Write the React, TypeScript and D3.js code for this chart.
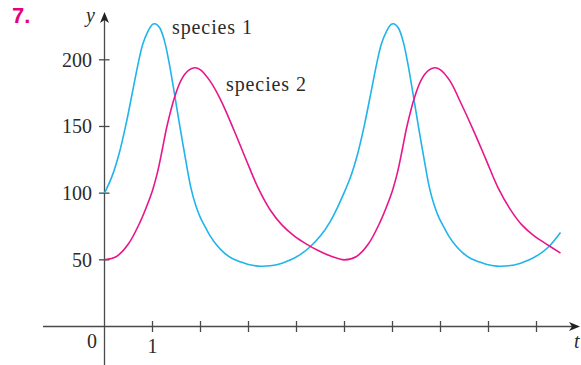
import React from "react";
import * as d3 from "d3";

const species1T = [0, 0.15, 0.3, 0.45, 0.6, 0.7, 0.8, 0.9, 1.0, 1.06, 1.15, 1.25, 1.34, 1.46, 1.57, 1.7, 1.8, 1.9, 2.0, 2.1, 2.2, 2.35, 2.5, 2.66, 2.85, 3.0, 3.2, 3.45, 3.7, 3.88, 4.1, 4.29, 4.5, 4.7, 4.85, 4.97, 5.12, 5.27, 5.42, 5.57, 5.67, 5.77, 5.87, 5.97, 6.03, 6.12, 6.22, 6.31, 6.43, 6.54, 6.67, 6.77, 6.87, 6.97, 7.07, 7.17, 7.32, 7.47, 7.63, 7.82, 7.97, 8.17, 8.42, 8.67, 8.85, 9.07, 9.26, 9.5];
const species1V = [100, 112, 129, 152, 179, 197, 212, 221, 226.5, 227, 224, 214, 199, 174, 150, 123, 104, 91, 81.5, 74.5, 68, 60.5, 55, 51, 48.3, 46.5, 45.3, 45.5, 47.5, 50, 54.5, 60, 68, 78.5, 89, 98.5, 111.5, 129, 152, 179, 197, 212, 221, 226.5, 227, 224, 214, 199, 174, 150, 123, 104, 91, 81.5, 74.5, 68, 60.5, 55, 51, 48.3, 46.5, 45.3, 45.5, 47.5, 50, 54.5, 60, 70.5];

const species2T = [0, 0.25, 0.5, 0.75, 0.9, 1.0, 1.1, 1.2, 1.3, 1.46, 1.6, 1.75, 1.875, 2.0, 2.2, 2.42, 2.7, 2.94, 3.2, 3.46, 3.7, 3.95, 4.2, 4.45, 4.7, 5.0, 5.25, 5.5, 5.75, 5.9, 6.0, 6.1, 6.2, 6.3, 6.46, 6.6, 6.75, 6.875, 7.0, 7.2, 7.42, 7.7, 7.95, 8.2, 8.46, 8.7, 8.95, 9.2, 9.5];
const species2V = [50, 52.5, 62, 79, 92, 102, 115, 132, 150, 172, 185, 192, 194, 192.5, 184, 170, 147, 126, 104, 87, 76, 68, 62, 57, 53, 50, 52.5, 62, 79, 92, 102, 115, 132, 150, 172, 185, 192, 194, 192.5, 184, 168, 146, 125, 104, 87.5, 76, 68, 62, 55];

const xTicks = [1, 2, 3, 4, 5, 6, 7, 8, 9];
const xTickLabels = ["1"];
const yTicks = [50, 100, 150, 200];
const seriesNames = ["species 1", "species 2"];

const W = 581;
const H = 365;
const BLUE = "#1FB4EA";
const MAGENTA = "#E8168B";
const AXIS = "#4a4a4a";
const TEXT = "#2b2b2b";
const SERIF = "'Liberation Serif', 'Times New Roman', serif";

export default function App() {
  const x = d3.scaleLinear().domain([0, 10]).range([104.5, 584.5]);
  const y = d3.scaleLinear().domain([0, 200]).range([326.5, 59.8]);

  const line = d3
    .line<[number, number]>()
    .x((d) => x(d[0]))
    .y((d) => y(d[1]))
    .curve(d3.curveCatmullRom.alpha(0.5));

  const s1 = species1T.map((t, i) => [t, species1V[i]] as [number, number]);
  const s2 = species2T.map((t, i) => [t, species2V[i]] as [number, number]);

  const x0 = x(0);
  const y0 = y(0);

  return (
    <div style={{ position: "absolute", left: 0, top: 0 }}>
      <svg width={W} height={H} style={{ display: "block", background: "#fff" }}>
        <line x1={43} x2={574} y1={y0} y2={y0} stroke={AXIS} strokeWidth={1.3} />
        <path d={`M580,${y0} L569,${y0 - 4.5} L572,${y0} L569,${y0 + 4.5} Z`} fill="#222" />
        <line x1={x0} x2={x0} y1={365} y2={19} stroke={AXIS} strokeWidth={1.3} />
        <path d={`M${x0},12 L${x0 - 4.5},23 L${x0},20 L${x0 + 4.5},23 Z`} fill="#222" />

        {xTicks.map((t) => (
          <line key={"xt" + t} x1={x(t)} x2={x(t)} y1={y0 - 5.5} y2={y0 + 5.5} stroke={AXIS} strokeWidth={1.3} />
        ))}
        {yTicks.map((v) => (
          <line key={"yt" + v} x1={x0 - 5.5} x2={x0 + 5} y1={y(v)} y2={y(v)} stroke={AXIS} strokeWidth={1.3} />
        ))}
        {yTicks.map((v) => (
          <text key={"yl" + v} x={92} y={y(v) + 6.8} textAnchor="end" fontFamily={SERIF} fontSize={20} fill={TEXT}>
            {v}
          </text>
        ))}
        <text x={97} y={348} textAnchor="end" fontFamily={SERIF} fontSize={20} fill={TEXT}>0</text>
        <text x={x(1)} y={353} textAnchor="middle" fontFamily={SERIF} fontSize={20} fill={TEXT}>{xTickLabels[0]}</text>

        <text x={86} y={22} fontFamily={SERIF} fontStyle="italic" fontSize={20} fill={TEXT}>y</text>
        <text x={574} y={348} fontFamily={SERIF} fontStyle="italic" fontSize={20} fill={TEXT}>t</text>

        <text x={12} y={23} fontFamily="'Liberation Sans', Arial, sans-serif" fontWeight="bold" fontSize={22} fill="#E5007D">7.</text>

        <path d={line(s1) || ""} fill="none" stroke={BLUE} strokeWidth={1.6} />
        <path d={line(s2) || ""} fill="none" stroke={MAGENTA} strokeWidth={1.6} />

        <text x={172} y={33.5} fontFamily={SERIF} fontSize={20} letterSpacing={0.9} fill={TEXT}>{seriesNames[0]}</text>
        <text x={226} y={91} fontFamily={SERIF} fontSize={20} letterSpacing={0.9} fill={TEXT}>{seriesNames[1]}</text>
      </svg>
    </div>
  );
}
